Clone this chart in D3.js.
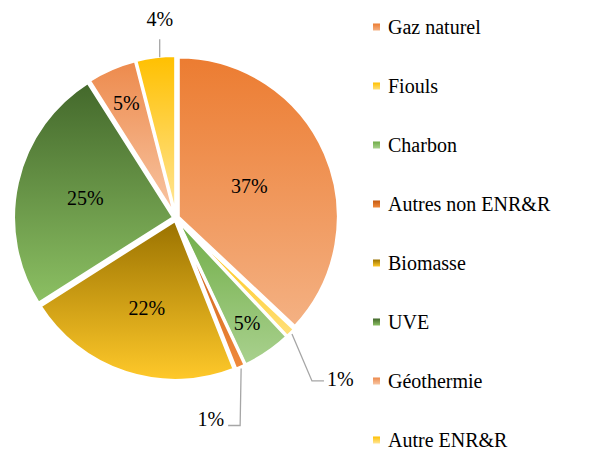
<!DOCTYPE html>
<html>
<head>
<meta charset="utf-8">
<script src="https://cdn.jsdelivr.net/npm/d3@7"></script>
<style>
  body { margin: 0; background: #fff; }
  svg text { font-family: "Liberation Serif", "DejaVu Serif", serif !important; }
</style>
</head>
<body>
<script>
// Data
var categories = ["Gaz naturel", "Fiouls", "Charbon", "Autres non ENR&R", "Biomasse", "UVE", "Géothermie", "Autre ENR&R"];
var shares = [37, 1, 5, 1, 22, 25, 5, 4];
var labels = ["37%", "1%", "5%", "1%", "22%", "25%", "5%", "4%"];

// gradient colours top -> bottom for each slice
var topColors = ["#ec7c31", "#ffc000", "#70ad47", "#c55a11", "#9a7200", "#43682b", "#ed8a4c", "#ffc000"];
var bottomColors = ["#f4b183", "#ffe07a", "#a9d18e", "#f08a3c", "#ffc92a", "#8cc063", "#f8c6a4", "#ffe699"];

var width = 593, height = 450;
var cx = 176, cy = 218, radius = 160;

var svg = d3.select("body").append("svg")
    .attr("width", width)
    .attr("height", height);

var defs = svg.append("defs");
categories.forEach(function(c, i) {
    var g = defs.append("linearGradient")
        .attr("id", "grad" + i)
        .attr("x1", 0).attr("y1", 0)
        .attr("x2", 0).attr("y2", 1);
    g.append("stop").attr("offset", "0%").attr("stop-color", topColors[i]);
    g.append("stop").attr("offset", "100%").attr("stop-color", bottomColors[i]);
});

var pie = d3.pie().sort(null).value(function(d) { return d; });
var arcs = pie(shares);

var arc = d3.arc().innerRadius(0).outerRadius(radius);

var chart = svg.append("g")
    .attr("transform", "translate(" + cx + "," + cy + ")");

var explode = 2.5;

chart.selectAll("path.slice")
    .data(arcs)
  .enter().append("path")
    .attr("class", "slice")
    .attr("d", arc)
    .attr("fill", function(d, i) { return "url(#grad" + i + ")"; })
    .attr("stroke", "#fff")
    .attr("stroke-width", 3)
    .attr("transform", function(d) {
        var a = (d.startAngle + d.endAngle) / 2;
        return "translate(" + (Math.sin(a) * explode) + "," + (-Math.cos(a) * explode) + ")";
    });

// inside labels: radial factor per slice (best fit placement)
var labelRadius = [0.5, null, 0.79, null, 0.59, 0.58, 0.78, null];

chart.selectAll("text.inner")
    .data(arcs.filter(function(d, i) { return labelRadius[i] !== null; }))
  .enter().append("text")
    .attr("class", "inner")
    .attr("text-anchor", "middle")
    .attr("dy", "0.35em")
    .style("font-size", "20px")
    .attr("x", function(d) {
        var a = (d.startAngle + d.endAngle) / 2;
        return Math.sin(a) * radius * labelRadius[d.index];
    })
    .attr("y", function(d) {
        var a = (d.startAngle + d.endAngle) / 2;
        return -Math.cos(a) * radius * labelRadius[d.index];
    })
    .text(function(d) { return labels[d.index]; });

// outside labels with leader lines
function edgePoint(d, r) {
    var a = (d.startAngle + d.endAngle) / 2;
    return [Math.sin(a) * r, -Math.cos(a) * r];
}

// Fiouls
var pF = edgePoint(arcs[1], radius + 4);
chart.append("polyline")
    .attr("points", [pF, [pF[0] + 20, pF[1] + 47], [pF[0] + 32, pF[1] + 47]].join(" "))
    .attr("fill", "none").attr("stroke", "#a6a6a6").attr("stroke-width", 1.3);
chart.append("text")
    .attr("x", pF[0] + 35).attr("y", pF[1] + 45)
    .attr("dy", "0.35em")
    .style("font-size", "20px")
    .text(labels[1]);

// Autres non ENR&R
var pA = edgePoint(arcs[3], radius + 4);
chart.append("polyline")
    .attr("points", [pA, [pA[0] - 1, pA[1] + 57], [pA[0] - 13, pA[1] + 57]].join(" "))
    .attr("fill", "none").attr("stroke", "#a6a6a6").attr("stroke-width", 1.3);
chart.append("text")
    .attr("x", pA[0] - 17).attr("y", pA[1] + 50)
    .attr("text-anchor", "end")
    .attr("dy", "0.35em")
    .style("font-size", "20px")
    .text(labels[3]);

// Autre ENR&R (top)
var pT = edgePoint(arcs[7], radius + 2);
chart.append("line")
    .attr("x1", pT[0] + 4).attr("y1", pT[1])
    .attr("x2", pT[0] + 4).attr("y2", pT[1] - 18)
    .attr("stroke", "#a6a6a6").attr("stroke-width", 1.3);
chart.append("text")
    .attr("x", pT[0] + 4).attr("y", pT[1] - 38)
    .attr("text-anchor", "middle")
    .attr("dy", "0.35em")
    .style("font-size", "20px")
    .text(labels[7]);

// Legend
var legend = svg.append("g")
    .attr("transform", "translate(373,27)");

var rows = legend.selectAll("g.row")
    .data(categories)
  .enter().append("g")
    .attr("class", "row")
    .attr("transform", function(d, i) { return "translate(0," + (i * 59) + ")"; });

rows.append("rect")
    .attr("x", 0).attr("y", -3.5)
    .attr("width", 7).attr("height", 7)
    .attr("fill", function(d, i) { return "url(#grad" + i + ")"; });

rows.append("text")
    .attr("x", 15).attr("y", 0)
    .attr("dy", "0.35em")
    .style("font-size", "20px")
    .text(function(d) { return d; });
</script>
</body>
</html>
